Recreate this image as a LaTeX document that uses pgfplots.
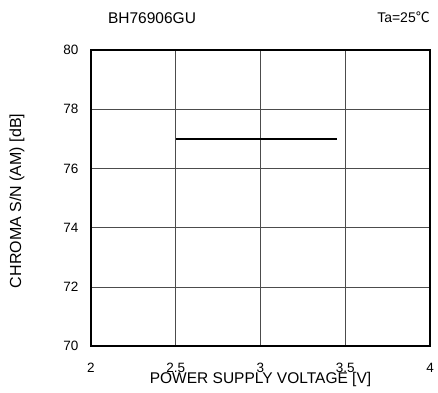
\documentclass[border=0pt]{standalone}
\usepackage{pgfplots}
\pgfplotsset{compat=1.18}
\usepackage{fontspec}
\setmainfont{Liberation Sans}
\newfontfamily\cjk{Noto Sans CJK JP}
\begin{document}
\begin{tikzpicture}
\path[use as bounding box] (-91pt,-46pt) rectangle (347pt,346pt);
\begin{axis}[
  at={(0,0)}, anchor=south west,
  scale only axis=true,
  width=339pt, height=296pt,
  xmin=2, xmax=4, ymin=70, ymax=80,
  xtick={2,2.5,3,3.5,4},
  ytick={70,72,...,80},
  xticklabels={2,2.5,3,3.5,4},
  grid=major,
  grid style={black!70, line width=0.6pt},
  axis line style={line width=2.2pt},
  tick style={draw=none},
  tick label style={font=\fontsize{13.5}{15}\selectfont},
  /pgf/number format/assume math mode=true,
  xticklabel style={yshift=-14pt},
  yticklabel style={xshift=-9pt},
  clip=false,
]
\addplot[black, line width=1.4pt] coordinates {(2.5,77) (3.45,77)};
\node[font=\fontsize{15.5}{17}\selectfont] at (rel axis cs:0.5,-0.113) {POWER SUPPLY VOLTAGE [V]};
\node[font=\fontsize{16}{18}\selectfont, rotate=90] at (rel axis cs:-0.218,0.49) {CHROMA S/N (AM) [dB]};
\node[font=\fontsize{15.5}{17}\selectfont] at (rel axis cs:0.18,1.108) {BH76906GU};
\node[font=\fontsize{14}{16}\selectfont, anchor=east, inner sep=0pt] at (rel axis cs:1.0,1.11) {Ta=25{\cjk ℃}};
\end{axis}
\end{tikzpicture}
\end{document}
